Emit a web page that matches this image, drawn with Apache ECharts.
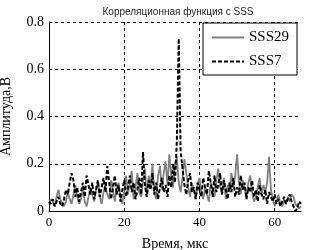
<!DOCTYPE html>
<html><head><meta charset="utf-8">
<script src="https://cdn.jsdelivr.net/npm/echarts@6/dist/echarts.min.js"></script>
<style>html,body{margin:0;padding:0;background:#fff}#c{width:333px;height:250px}</style>
</head><body><div id="c"></div>
<script>
const title = 'Корреляционная функция с SSS';
const xName = 'Время, мкс';
const yName = 'Амплитуда,В';
const seriesNames = ['SSS29', 'SSS7'];
const tStep = 0.5; // мкс
const sss29 = [
0.03,0.05,0.04,0.02,0.06,0.09,0.05,0.03,0.02,0.04,
0.08,0.05,0.03,0.07,0.11,0.06,0.03,0.05,0.09,0.04,
0.02,0.06,0.10,0.07,0.04,0.09,0.12,0.06,0.03,0.08,
0.11,0.07,0.05,0.13,0.09,0.04,0.10,0.12,0.06,0.03,
0.08,0.15,0.07,0.12,0.17,0.05,0.10,0.16,0.08,0.06,
0.13,0.18,0.06,0.15,0.10,0.20,0.08,0.05,0.15,0.19,
0.09,0.16,0.21,0.11,0.24,0.15,0.10,0.20,0.23,0.12,
0.08,0.14,0.22,0.16,0.10,0.06,0.12,0.09,0.05,0.11,
0.14,0.08,0.05,0.10,0.07,0.04,0.12,0.09,0.06,0.13,
0.18,0.10,0.07,0.14,0.05,0.11,0.08,0.16,0.10,0.15,
0.24,0.12,0.07,0.13,0.10,0.05,0.12,0.15,0.08,0.04,
0.06,0.10,0.14,0.07,0.11,0.08,0.12,0.23,0.09,0.05,
0.02,0.04,0.07,0.03,0.02,0.05,0.03,0.06,0.04,0.07,
0.06,0.03,0.02,0.01,0.02
];
const sss7 = [
0.04,0.03,0.05,0.02,0.04,0.06,0.03,0.02,0.05,0.09,
0.07,0.12,0.16,0.13,0.06,0.10,0.04,0.08,0.12,0.06,
0.15,0.11,0.07,0.12,0.05,0.09,0.13,0.06,0.10,0.14,
0.08,0.19,0.12,0.05,0.10,0.15,0.07,0.11,0.04,0.09,
0.13,0.06,0.10,0.15,0.08,0.12,0.05,0.09,0.14,0.07,
0.25,0.11,0.06,0.13,0.09,0.16,0.07,0.12,0.05,0.10,
0.14,0.08,0.11,0.06,0.15,0.10,0.20,0.12,0.30,0.73,
0.25,0.18,0.11,0.07,0.13,0.16,0.08,0.10,0.05,0.12,
0.09,0.06,0.14,0.10,0.07,0.17,0.12,0.06,0.15,0.08,
0.11,0.16,0.07,0.13,0.09,0.05,0.12,0.08,0.14,0.06,
0.10,0.07,0.15,0.09,0.12,0.05,0.10,0.08,0.13,0.06,
0.09,0.04,0.11,0.07,0.05,0.09,0.03,0.08,0.06,0.04,
0.07,0.03,0.05,0.02,0.04,0.06,0.03,0.05,0.07,0.04,
0.02,0.00,0.01,0.04,0.03
];
const xTicks = [0, 20, 40, 60];
const yTicks = [0, 0.2, 0.4, 0.6, 0.8];

const pairs = arr => arr.map((v, i) => [i * tStep, v]);
const serif = 'Liberation Serif';
const chart = echarts.init(document.getElementById('c'));
chart.setOption({
  animation: false,
  backgroundColor: '#fff',
  title: { text: title, left: 173, top: 2, textAlign: 'center',
    textStyle: { fontFamily: 'Liberation Sans', fontSize: 10, fontWeight: 'normal', color: '#222' } },
  grid: { left: 49, right: 32, top: 22, bottom: 39, containLabel: false, outerBoundsMode: 'none' },
  legend: {
    orient: 'vertical', left: 203, top: 23, padding: [7, 8, 6, 8], itemGap: 9,
    itemWidth: 32, itemHeight: 12,
    backgroundColor: '#fff', borderColor: '#000', borderWidth: 1,
    itemStyle: { opacity: 0 },
    textStyle: { fontFamily: serif, fontSize: 15, color: '#000' },
    data: seriesNames
  },
  xAxis: {
    type: 'value', min: 0, max: 67, interval: 20,
    name: xName, nameLocation: 'middle', nameGap: 26,
    nameTextStyle: { fontFamily: serif, fontSize: 14, color: '#000' },
    axisLine: { lineStyle: { color: '#000', width: 1 } },
    axisTick: { show: false },
    axisLabel: { fontFamily: serif, fontSize: 13, color: '#000', margin: 5,
      showMaxLabel: false,
      formatter: v => xTicks.includes(v) ? String(v) : '' },
    splitLine: { show: true, showMaxLine: false, lineStyle: { color: '#000', type: [3, 3], width: 1 } }
  },
  yAxis: {
    type: 'value', min: 0, max: 0.8, interval: 0.2,
    name: yName, nameLocation: 'middle', nameGap: 36,
    nameTextStyle: { fontFamily: serif, fontSize: 14, color: '#000' },
    axisLine: { show: true, lineStyle: { color: '#000', width: 1 } },
    axisTick: { show: false },
    axisLabel: { fontFamily: serif, fontSize: 14, color: '#000', margin: 5,
      formatter: v => { const t = yTicks.find(y => Math.abs(y - v) < 1e-9); return t === undefined ? '' : (t === 0 ? '0' : t.toFixed(1)); } },
    splitLine: { show: true, lineStyle: { color: '#000', type: [3, 3], width: 1 } }
  },
  series: [
    { name: seriesNames[0], type: 'line', data: pairs(sss29), symbol: 'none',
      lineStyle: { color: '#808080', width: 1.8 }, itemStyle: { color: '#808080' }, z: 2 },
    { name: seriesNames[1], type: 'line', data: pairs(sss7), symbol: 'none',
      lineStyle: { color: '#000', width: 2, type: [4, 2] }, itemStyle: { color: '#000' }, z: 3 }
  ]
});
</script></body></html>
